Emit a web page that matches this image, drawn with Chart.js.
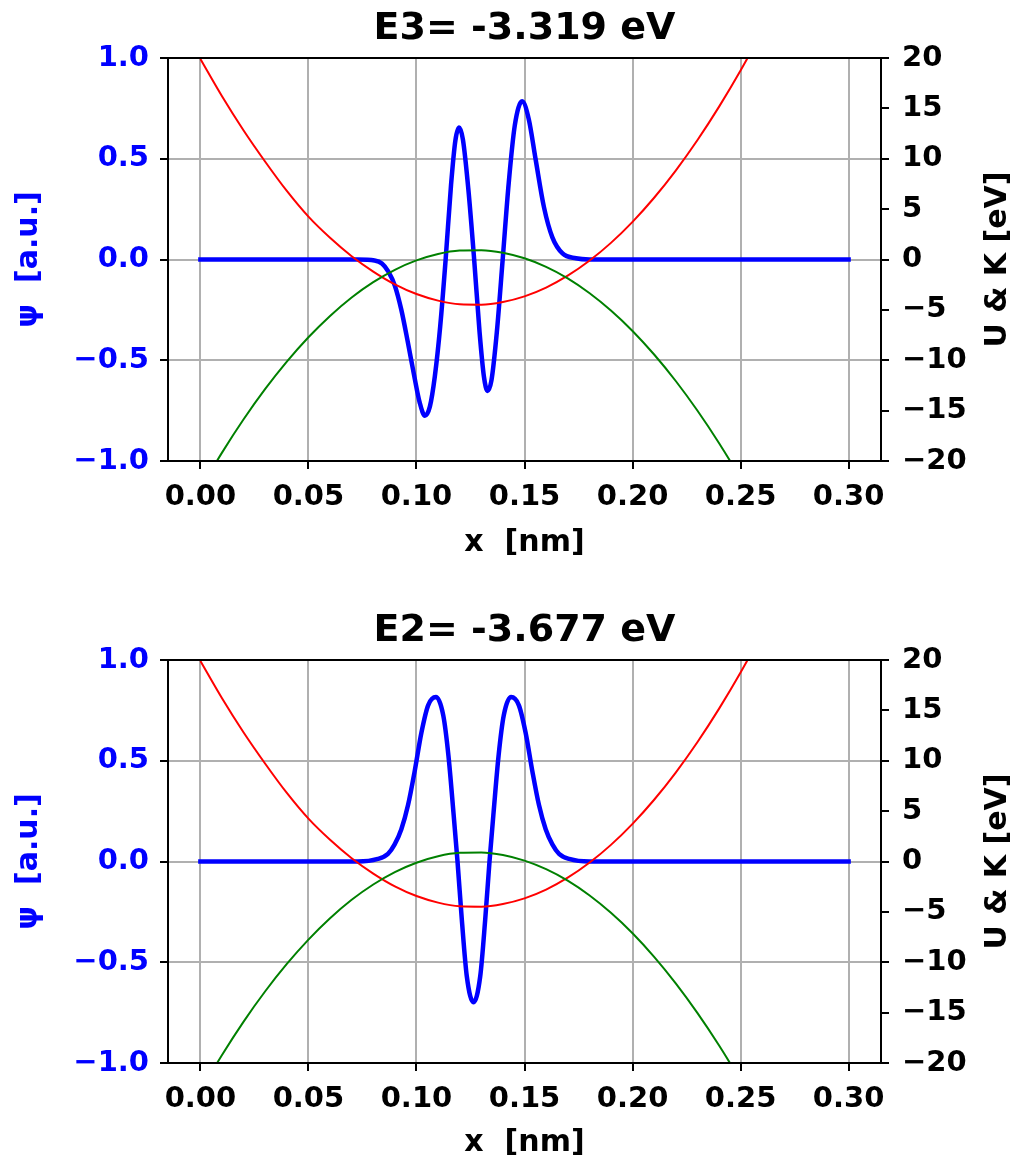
<!DOCTYPE html>
<html>
<head>
<meta charset="utf-8">
<script src="https://cdn.jsdelivr.net/npm/chart.js@4.4.1/dist/chart.umd.min.js"></script>
<style>
  html, body { margin: 0; padding: 0; background: #fff; overflow: hidden; }
  canvas { display: block; }
</style>
</head>
<body>
<canvas id="panelE3" width="1018" height="602"></canvas>
<canvas id="panelE2" width="1018" height="561"></canvas>
<script>
// tick positions
const xTicks = [0, 0.05, 0.10, 0.15, 0.20, 0.25, 0.30];
const psiTicks = [-1, -0.5, 0, 0.5, 1];
const energyTicks = [-20, -15, -10, -5, 0, 5, 10, 15, 20];

// potential U and kinetic K [eV] on a 0.01 nm grid
const gridX = [0.00, 0.01, 0.02, 0.03, 0.04, 0.05, 0.06, 0.07, 0.08, 0.09, 0.10,
               0.11, 0.12, 0.13, 0.14, 0.15, 0.16, 0.17, 0.18, 0.19, 0.20,
               0.21, 0.22, 0.23, 0.24, 0.25, 0.26, 0.27, 0.28, 0.29, 0.30];
const potentialU = [19.9, 16.2, 12.8, 9.7, 6.8, 4.25, 2.15, 0.32, -1.2, -2.47, -3.43,
                    -4.08, -4.44, -4.48, -4.22, -3.66, -2.79, -1.61, -0.13, 1.65, 3.74,
                    6.13, 8.83, 11.84, 15.15, 18.76, 22.68, 26.9, 31.43, 36.27, 41.4];
const kineticE3 = [-22.78, -19.17, -15.86, -12.85, -10.14, -7.72, -5.6, -3.77, -2.25, -1.02, -0.09,
                   0.55, 0.89, 0.93, 0.68, 0.12, -0.73, -1.87, -3.32, -5.06, -7.09,
                   -9.43, -12.06, -14.99, -18.21, -21.74, -25.56, -29.7, -34.1, -38.8, -43.8];
const kineticE2 = [-22.8, -19.2, -15.89, -12.88, -10.17, -7.75, -5.63, -3.8, -2.28, -1.05, -0.12,
                   0.52, 0.86, 0.9, 0.65, 0.09, -0.76, -1.9, -3.35, -5.09, -7.12,
                   -9.46, -12.09, -15.02, -18.24, -21.77, -25.6, -29.7, -34.1, -38.8, -43.8];

// wave functions, sampled densely where they oscillate
const psi3X = [0, 0.0728, 0.0806, 0.0840, 0.0870, 0.0900, 0.0930, 0.0960, 0.0990, 0.1015,
               0.1039, 0.1062, 0.1085, 0.1110, 0.1135, 0.1160, 0.1180, 0.1197, 0.1215, 0.1240,
               0.1267, 0.1292, 0.1312, 0.1329, 0.1347, 0.1372, 0.1399, 0.1427, 0.1455, 0.1489,
               0.1520, 0.1551, 0.1590, 0.1629, 0.1676, 0.1738, 0.1800, 0.30];
const psi3 = [0, 0, -0.005, -0.02, -0.06, -0.13, -0.25, -0.41, -0.58, -0.71,
              -0.775, -0.73, -0.58, -0.33, 0, 0.37, 0.59, 0.655, 0.595, 0.35,
              0, -0.36, -0.58, -0.652, -0.6, -0.36, 0, 0.38, 0.665, 0.785,
              0.695, 0.5, 0.26, 0.11, 0.03, 0.006, 0, 0];
const psi2X = [0, 0.0728, 0.0821, 0.0868, 0.0899, 0.0930, 0.0961, 0.0992, 0.1023, 0.1054,
               0.1090, 0.1124, 0.1148, 0.1171, 0.1190, 0.1210, 0.1233, 0.1264, 0.1295, 0.1318,
               0.1338, 0.1357, 0.1380, 0.1404, 0.1438, 0.1474, 0.1505, 0.1536, 0.1567, 0.1598,
               0.1629, 0.1660, 0.1707, 0.1800, 0.30];
const psi2 = [0, 0, 0.013, 0.038, 0.085, 0.16, 0.28, 0.45, 0.64, 0.775,
              0.816, 0.725, 0.525, 0.245, 0, -0.29, -0.57, -0.699, -0.57, -0.29,
              0, 0.245, 0.525, 0.725, 0.816, 0.775, 0.64, 0.45, 0.28, 0.16,
              0.085, 0.038, 0.013, 0, 0];

const FONT = 'DejaVu Sans';
const BLUE = '#0000ff';

function points(xs, ys) {
  return xs.map((x, i) => ({ x: x, y: ys[i] }));
}
function minus(s) {
  return s.replace('-', '\u2212');
}

// box around the plot area, title centred over it, right axis label reading upwards
const framePlugin = {
  id: 'frame',
  afterDraw(chart) {
    const { ctx, chartArea: a } = chart;
    ctx.save();
    ctx.strokeStyle = '#000';
    ctx.lineWidth = 2;
    ctx.strokeRect(a.left, a.top, a.right - a.left, a.bottom - a.top);

    ctx.fillStyle = '#000';
    ctx.textAlign = 'center';
    ctx.textBaseline = 'middle';
    ctx.font = 'bold 38px "' + FONT + '"';
    ctx.fillText(chart.options.plugins.frame.title, (a.left + a.right) / 2, 29);

    ctx.translate(998, (a.top + a.bottom) / 2);
    ctx.rotate(-Math.PI / 2);
    ctx.font = 'bold 30px "' + FONT + '"';
    ctx.fillText('U & K [eV]', 0, 0);
    ctx.restore();
  }
};

function makePanel(id, height, xLabelY, title, psiX, psiY, kinetic) {
  const tickFont = { family: FONT, size: 29, weight: 'bold' };
  const grid = { color: '#b0b0b0', lineWidth: 2, tickColor: '#000', tickLength: 8, tickWidth: 2 };
  return new Chart(document.getElementById(id), {
    type: 'line',
    data: {
      datasets: [
        { data: points(gridX, kinetic), yAxisID: 'y2', borderColor: '#008000', borderWidth: 2,
          cubicInterpolationMode: 'monotone' },
        { data: points(gridX, potentialU), yAxisID: 'y2', borderColor: '#ff0000', borderWidth: 2,
          cubicInterpolationMode: 'monotone' },
        { data: points(psiX, psiY), yAxisID: 'y', borderColor: BLUE, borderWidth: 4.5,
          cubicInterpolationMode: 'monotone', borderCapStyle: 'square' }
      ]
    },
    options: {
      responsive: false,
      animation: false,
      elements: { point: { radius: 0 } },
      layout: { padding: { top: 58 } },
      plugins: {
        legend: { display: false },
        tooltip: { enabled: false },
        title: { display: false },
        frame: { title: title }
      },
      scales: {
        x: {
          type: 'linear',
          min: -0.015,
          max: 0.315,
          afterFit: s => { s.height = height - 461; },
          afterBuildTicks: s => { s.ticks = xTicks.map(v => ({ value: v })); },
          ticks: { color: '#000', font: tickFont, padding: 11, callback: v => v.toFixed(2) },
          grid: grid,
          border: { color: '#000', width: 2 },
          title: {
            display: true,
            text: 'x  [nm]',
            color: '#000',
            font: { family: FONT, size: 30, weight: 'bold' },
            padding: { bottom: height - 18 - xLabelY }
          }
        },
        y: {
          position: 'left',
          min: -1,
          max: 1,
          afterFit: s => { s.width = 168; },
          afterBuildTicks: s => { s.ticks = psiTicks.map(v => ({ value: v })); },
          ticks: { color: BLUE, font: tickFont, padding: 11, callback: v => minus(v.toFixed(1)) },
          grid: grid,
          border: { color: '#000', width: 2 },
          title: {
            display: true,
            text: 'ψ  [a.u.]',
            color: BLUE,
            font: { family: FONT, size: 30, weight: 'bold' },
            padding: { top: 11 }
          }
        },
        y2: {
          position: 'right',
          min: -20,
          max: 20,
          afterFit: s => { s.width = 137; },
          afterBuildTicks: s => { s.ticks = energyTicks.map(v => ({ value: v })); },
          ticks: { color: '#000', font: tickFont, padding: 13, callback: v => minus(String(v)) },
          grid: Object.assign({}, grid, { drawOnChartArea: false }),
          border: { color: '#000', width: 2 }
        }
      }
    },
    plugins: [framePlugin]
  });
}

makePanel('panelE3', 602, 543, 'E3= -3.319 eV', psi3X, psi3, kineticE3);
makePanel('panelE2', 561, 541, 'E2= -3.677 eV', psi2X, psi2, kineticE2);
</script>
</body>
</html>
